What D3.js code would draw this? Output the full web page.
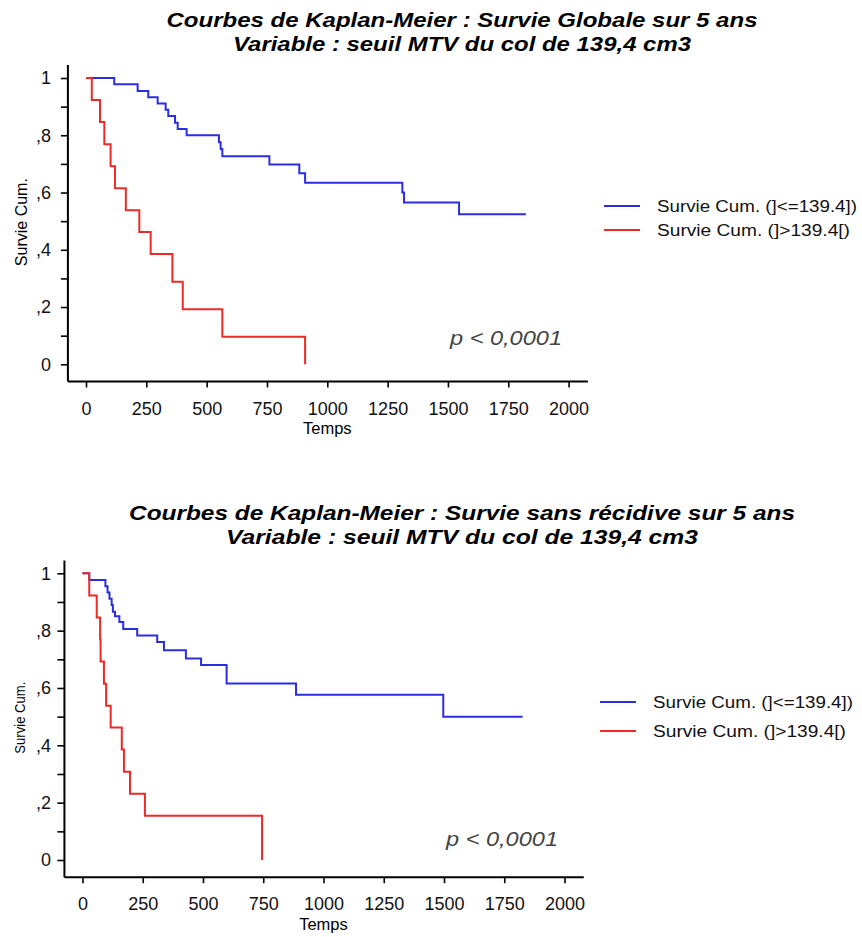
<!DOCTYPE html>
<html>
<head>
<meta charset="utf-8">
<script src="https://cdn.jsdelivr.net/npm/d3@7"></script>
<style>
  body { margin: 0; background: #fff; }
  svg { display: block; font-family: "Liberation Sans", Arial, sans-serif; }
  .tick text { font-size: 18px; fill: #111; }
  .tick line { stroke: #000; stroke-width: 1.6; }
</style>
</head>
<body>
<div id="chart"></div>
<script>
// tick values
var xTicks = [0, 250, 500, 750, 1000, 1250, 1500, 1750, 2000];
var yTicks = [0, 0.1, 0.2, 0.3, 0.4, 0.5, 0.6, 0.7, 0.8, 0.9, 1];

var legendLabels = ["Survie Cum. (]<=139.4])", "Survie Cum. (]>139.4[)"];

// survie globale : [temps, survie cumulée]
var ogLow = [[0, 1], [117, 0.978], [214, 0.955], [258, 0.933], [297, 0.911], [330, 0.889],
    [341, 0.867], [369, 0.844], [380, 0.822], [417, 0.80], [551, 0.776], [558, 0.752],
    [565, 0.727], [760, 0.698], [884, 0.667], [908, 0.634], [1311, 0.60], [1318, 0.565],
    [1546, 0.524], [1823, 0.524]];
var ogHigh = [[0, 1], [24, 0.923], [58, 0.846], [76, 0.769], [102, 0.692], [120, 0.615],
    [165, 0.538], [221, 0.462], [268, 0.385], [358, 0.288], [401, 0.192], [565, 0.096],
    [908, 0]];

// survie sans récidive
var ssrLow = [[0, 1], [28, 0.977], [95, 0.955], [104, 0.933], [112, 0.911], [121, 0.889],
    [126, 0.866], [135, 0.85], [153, 0.83], [169, 0.806], [227, 0.783], [310, 0.76],
    [338, 0.732], [429, 0.703], [492, 0.68], [598, 0.616], [886, 0.576], [1497, 0.5],
    [1826, 0.5]];
var ssrHigh = [[0, 1], [28, 0.923], [59, 0.846], [73, 0.769], [75, 0.692], [89, 0.615],
    [98, 0.538], [117, 0.462], [163, 0.385], [172, 0.308], [197, 0.231], [259, 0.154],
    [745, 0]];

var width = 862,
    height = 937;

var svg = d3.select("#chart")
    .append("svg")
    .attr("width", width)
    .attr("height", height);

var panels = [
    {
        title: ["Courbes de Kaplan-Meier : Survie Globale sur 5 ans", "Variable : seuil MTV du col de 139,4 cm3"],
        titleY: [27, 51], titleLen: [591, 458],
        low: ogLow, high: ogHigh,
        xr: [86, 568.6], yr: [364.3, 78],
        yPad: 10, xPad: 15, tempsY: 434,
        ylabX: 27, ylabLen: 88, ylabSize: 16,
        legX: 604, legY: [206, 230],
        pX: 450, pY: 345
    },
    {
        title: ["Courbes de Kaplan-Meier : Survie sans récidive sur 5 ans", "Variable : seuil MTV du col de 139,4 cm3"],
        titleY: [520, 544], titleLen: [666, 472],
        low: ssrLow, high: ssrHigh,
        xr: [82.5, 564.5], yr: [860, 573.3],
        yPad: 6.5, xPad: 14, tempsY: 930,
        ylabX: 25, ylabLen: 72, ylabSize: 15,
        legX: 600, legY: [702, 731],
        pX: 446, pY: 846
    }
];

var blue = "#2a2ee0",
    red = "#ec2a2a";

panels.forEach(function (p) {
    var x = d3.scaleLinear().domain([0, 2000]).range(p.xr);
    var y = d3.scaleLinear().domain([0, 1]).range(p.yr);
    var g = svg.append("g");

    // titre
    g.selectAll(".title")
        .data(p.title)
        .enter().append("text")
        .attr("x", 462)
        .attr("y", function (d, i) { return p.titleY[i]; })
        .attr("text-anchor", "middle")
        .attr("font-size", 20.5)
        .attr("font-weight", "bold")
        .attr("font-style", "italic")
        .attr("textLength", function (d, i) { return p.titleLen[i]; })
        .attr("lengthAdjust", "spacingAndGlyphs")
        .text(function (d) { return d; });

    // axes
    var ax = x(-75), yb = y(-0.06);
    g.append("line")
        .attr("x1", ax).attr("x2", ax)
        .attr("y1", y(1.045)).attr("y2", yb)
        .attr("stroke", "#000").attr("stroke-width", 2);
    g.append("line")
        .attr("x1", ax).attr("x2", x(2080))
        .attr("y1", yb).attr("y2", yb)
        .attr("stroke", "#000").attr("stroke-width", 2);

    g.append("g")
        .attr("transform", "translate(" + ax + ",0)")
        .call(d3.axisLeft(y).tickValues(yTicks).tickSize(7).tickPadding(p.yPad)
            .tickFormat(function (d) {
                var k = Math.round(d * 10);
                if (k % 2) return "";
                if (k === 0) return "0";
                if (k === 10) return "1";
                return "," + k;
            }))
        .call(function (s) { s.select(".domain").remove(); });

    g.append("g")
        .attr("transform", "translate(0," + yb + ")")
        .call(d3.axisBottom(x).tickValues(xTicks).tickSize(6).tickPadding(p.xPad)
            .tickFormat(d3.format("d")))
        .call(function (s) { s.select(".domain").remove(); });

    g.append("text")
        .attr("x", x(1000))
        .attr("y", p.tempsY)
        .attr("text-anchor", "middle")
        .attr("font-size", 16.5)
        .text("Temps");

    g.append("text")
        .attr("transform", "translate(" + p.ylabX + "," + (y(0.5) + 1) + ") rotate(-90)")
        .attr("text-anchor", "middle")
        .attr("font-size", p.ylabSize)
        .attr("textLength", p.ylabLen)
        .attr("lengthAdjust", "spacingAndGlyphs")
        .text("Survie Cum.");

    // courbes
    var line = d3.line()
        .x(function (d) { return x(d[0]); })
        .y(function (d) { return y(d[1]); })
        .curve(d3.curveStepAfter);

    g.append("path").datum(p.low)
        .attr("d", line)
        .attr("fill", "none").attr("stroke", blue).attr("stroke-width", 2);
    g.append("path").datum(p.high)
        .attr("d", line)
        .attr("fill", "none").attr("stroke", red).attr("stroke-width", 2);

    // légende
    var leg = g.selectAll(".leg")
        .data(legendLabels)
        .enter().append("g")
        .attr("transform", function (d, i) { return "translate(" + p.legX + "," + p.legY[i] + ")"; });
    leg.append("line")
        .attr("x1", 0).attr("x2", 36)
        .attr("stroke", function (d, i) { return i ? red : blue; })
        .attr("stroke-width", 1.8);
    leg.append("text")
        .attr("x", 53)
        .attr("y", 6)
        .attr("font-size", 16)
        .attr("fill", "#111")
        .attr("textLength", function (d, i) { return i ? 193 : 200; })
        .attr("lengthAdjust", "spacingAndGlyphs")
        .text(function (d) { return d; });

    g.append("text")
        .attr("x", p.pX)
        .attr("y", p.pY)
        .attr("font-size", 21)
        .attr("font-style", "italic")
        .attr("fill", "#444")
        .attr("textLength", 112)
        .attr("lengthAdjust", "spacingAndGlyphs")
        .text("p < 0,0001");
});
</script>
</body>
</html>
